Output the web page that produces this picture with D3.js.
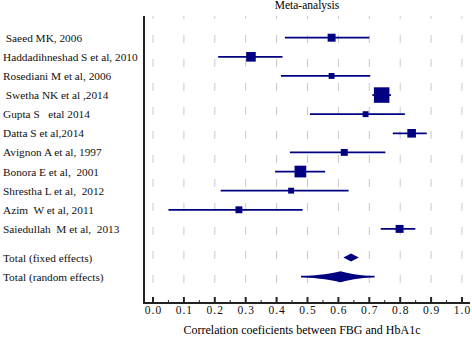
<!DOCTYPE html>
<html>
<head>
<meta charset="utf-8">
<script src="https://cdn.jsdelivr.net/npm/d3@7"></script>
<style>
  body { margin: 0; background: #fff; }
  svg { display: block; font-family: "Liberation Serif", "DejaVu Serif", serif; }
  text { white-space: pre; }
</style>
</head>
<body>
<svg id="chart" width="472" height="340"></svg>
<script>
var studies = [
    ' Saeed MK, 2006',
    'Haddadihneshad S et al, 2010',
    'Rosediani M et al, 2006',
    ' Swetha NK et al ,2014',
    'Gupta S   etal 2014',
    'Datta S et al,2014',
    'Avignon A et al, 1997',
    'Bonora E et al,  2001',
    'Shrestha L et al,  2012',
    'Azim  W et al, 2011',
    'Saiedullah  M et al,  2013'
];
var estimates = [0.578, 0.317, 0.578, 0.740, 0.688, 0.837, 0.619, 0.477, 0.447, 0.278, 0.798];
var lower = [0.427, 0.211, 0.414, 0.710, 0.508, 0.776, 0.443, 0.395, 0.219, 0.050, 0.737];
var upper = [0.700, 0.419, 0.703, 0.770, 0.815, 0.886, 0.752, 0.557, 0.633, 0.484, 0.849];
var weights = [7.3, 10.6, 4.0, 27.7, 4.0, 8.5, 5.5, 15.8, 4.0, 5.5, 7.3];

var totalLabels = ['Total (fixed effects)', 'Total (random effects)'];
var totalEstimates = [0.641, 0.607];
var totalLower = [0.616, 0.479];
var totalUpper = [0.666, 0.717];

var tickValues = [0, 0.1, 0.2, 0.3, 0.4, 0.5, 0.6, 0.7, 0.8, 0.9, 1.0];
var chartTitle = 'Meta-analysis';
var axisTitle = 'Correlation coeficients between FBG and HbA1c';

var navy = '#000080';
var svg = d3.select('#chart');

var xScale = d3.scaleLinear().domain([0, 1]).range([153, 462]);
var yScale = d3.scaleLinear().domain([0, 12.5]).range([37.7, 276.7]);
var sizeScale = d3.scaleSqrt().domain([0, d3.max(weights)]).range([0, 15.5]);

var plotLeft = 144, plotTop = 16, plotBottom = 303, plotRight = 470;

var studyData = studies.map(function(name, i) {
    return { name: name, est: estimates[i], lo: lower[i], hi: upper[i], w: weights[i], row: i };
});
var totalData = totalLabels.map(function(name, i) {
    return { name: name, est: totalEstimates[i], lo: totalLower[i], hi: totalUpper[i], row: 11.5 + i, random: i === 1 };
});

/* Grid */
svg.append('g')
    .selectAll('line')
    .data(tickValues)
    .join('line')
    .attr('x1', function(d) { return xScale(d); })
    .attr('x2', function(d) { return xScale(d); })
    .attr('y1', plotTop)
    .attr('y2', plotBottom - 3)
    .style('stroke', '#c8c8c8')
    .style('stroke-width', 1)
    .style('stroke-dasharray', '8,16')
    .style('stroke-dashoffset', 5);

/* Axes */
var xAxis = d3.axisBottom(xScale)
    .tickValues(tickValues)
    .tickFormat(d3.format('.1f'))
    .tickSize(0)
    .tickPadding(3);

var axisG = svg.append('g')
    .attr('transform', 'translate(0,' + plotBottom + ')')
    .call(xAxis);
axisG.select('.domain').remove();
axisG.selectAll('text')
    .style('font-family', '"Liberation Serif", serif')
    .style('font-size', '11.5px')
    .style('letter-spacing', '1px')
    .style('fill', '#111');

svg.append('line')
    .attr('x1', plotLeft).attr('x2', plotRight)
    .attr('y1', plotBottom).attr('y2', plotBottom)
    .style('stroke', '#222').style('stroke-width', 2);
svg.append('line')
    .attr('x1', plotLeft).attr('x2', plotLeft)
    .attr('y1', plotTop).attr('y2', plotBottom + 1)
    .style('stroke', '#222').style('stroke-width', 2);

var minorTicks = d3.range(0.05, 1, 0.1);
svg.append('g').selectAll('line')
    .data(tickValues)
    .join('line')
    .attr('x1', function(d) { return xScale(d); })
    .attr('x2', function(d) { return xScale(d); })
    .attr('y1', plotBottom - 6).attr('y2', plotBottom)
    .style('stroke', '#222').style('stroke-width', 2);
svg.append('g').selectAll('line')
    .data(minorTicks)
    .join('line')
    .attr('x1', function(d) { return xScale(d); })
    .attr('x2', function(d) { return xScale(d); })
    .attr('y1', plotBottom - 3).attr('y2', plotBottom)
    .style('stroke', '#222').style('stroke-width', 1);

/* Titles */
svg.append('text')
    .attr('x', 307).attr('y', 9)
    .style('text-anchor', 'middle')
    .style('font-size', '11.5px')
    .text(chartTitle);
svg.append('text')
    .attr('x', 302).attr('y', 334)
    .style('text-anchor', 'middle')
    .style('font-size', '12px')
    .text(axisTitle);

/* Labels */
svg.append('g')
    .selectAll('text')
    .data(studyData.concat(totalData))
    .join('text')
    .attr('x', 3)
    .attr('y', function(d) { return yScale(d.row) + 4; })
    .style('font-size', '11.3px')
    .style('fill', '#111')
    .text(function(d) { return d.name; });

/* Confidence intervals */
svg.append('g')
    .selectAll('line')
    .data(studyData.concat(totalData.filter(function(d) { return d.random; })))
    .join('line')
    .attr('x1', function(d) { return xScale(d.lo); })
    .attr('x2', function(d) { return xScale(d.hi); })
    .attr('y1', function(d) { return yScale(d.row); })
    .attr('y2', function(d) { return yScale(d.row); })
    .style('stroke', navy)
    .style('stroke-width', 1.8);

/* Study squares */
svg.append('g')
    .selectAll('rect')
    .data(studyData)
    .join('rect')
    .attr('x', function(d) { return xScale(d.est) - sizeScale(d.w) / 2; })
    .attr('y', function(d) { return yScale(d.row) - sizeScale(d.w) / 2; })
    .attr('width', function(d) { return sizeScale(d.w); })
    .attr('height', function(d) { return sizeScale(d.w); })
    .style('fill', navy);

/* Pooled diamonds: the random-effects one has concave sides */
svg.append('g')
    .selectAll('path')
    .data(totalData)
    .join('path')
    .attr('d', function(d) {
        var y = yScale(d.row);
        var lo = xScale(d.lo), hi = xScale(d.hi), c = xScale(d.est);
        if (!d.random) {
            var h = 4;
            return 'M' + lo + ',' + y + 'L' + c + ',' + (y - h) +
                'L' + hi + ',' + y + 'L' + c + ',' + (y + h) + 'Z';
        }
        var hr = 5.5;
        var kl = c - (c - lo) * 0.3, kr = c + (hi - c) * 0.3;
        return 'M' + lo + ',' + y +
            'Q' + kl + ',' + (y - hr * 0.45) + ' ' + c + ',' + (y - hr) +
            'Q' + kr + ',' + (y - hr * 0.45) + ' ' + hi + ',' + y +
            'Q' + kr + ',' + (y + hr * 0.45) + ' ' + c + ',' + (y + hr) +
            'Q' + kl + ',' + (y + hr * 0.45) + ' ' + lo + ',' + y + 'Z';
    })
    .style('fill', navy);
</script>
</body>
</html>
